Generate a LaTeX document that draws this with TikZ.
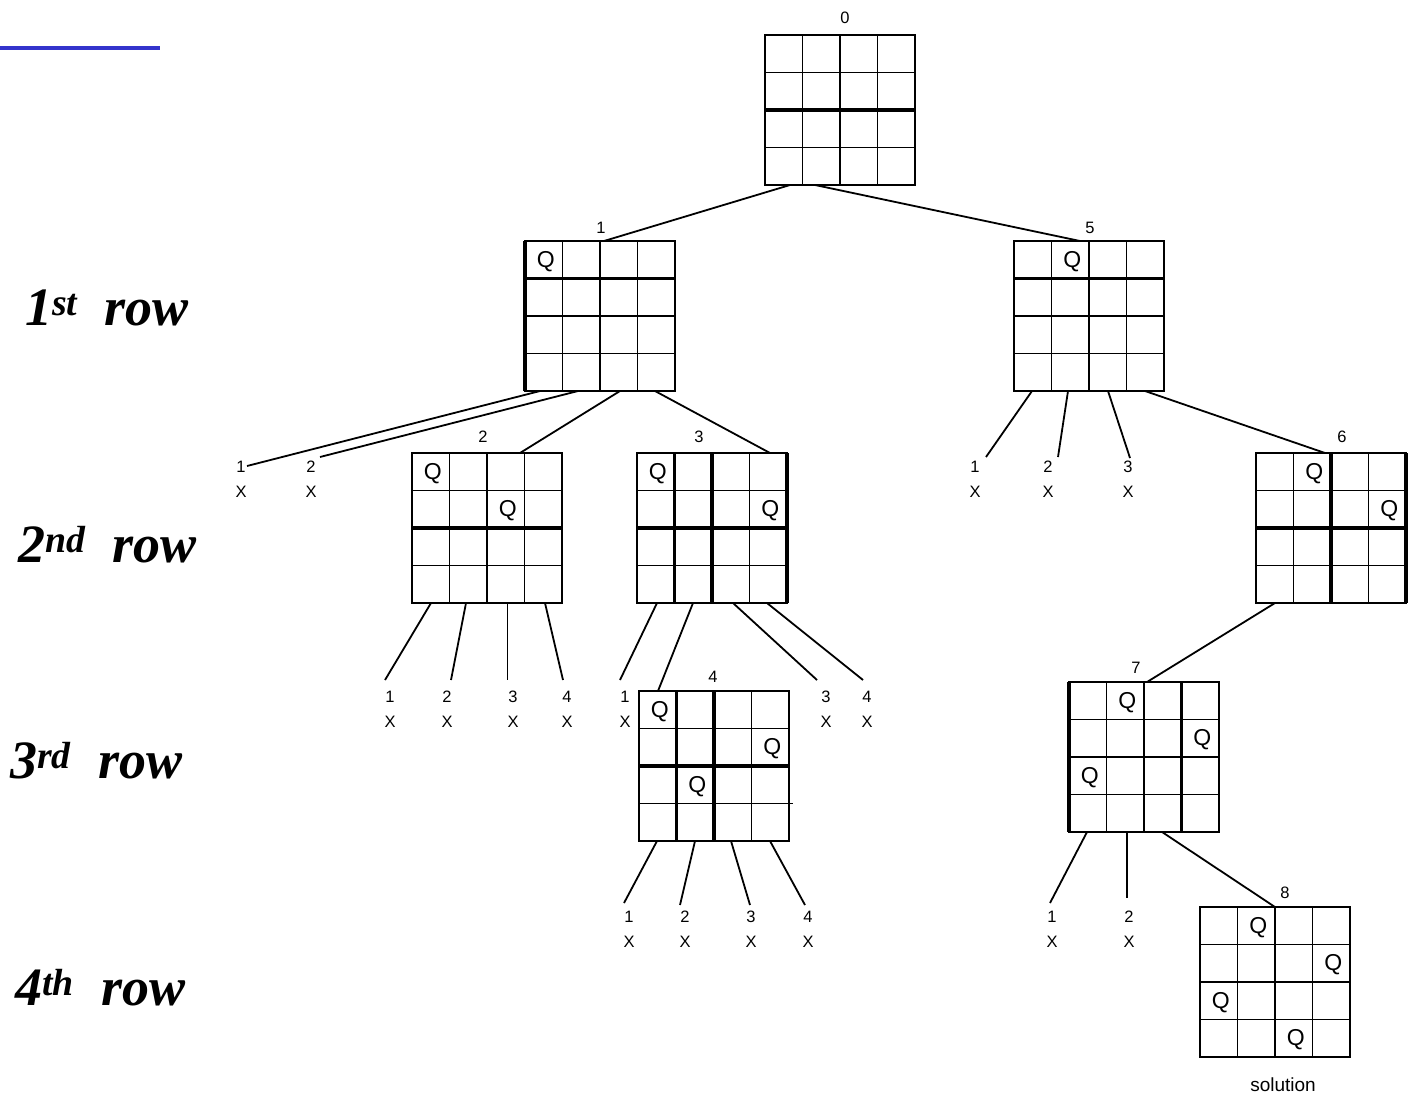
\documentclass[tikz,border=0pt]{standalone}
\usepackage{fontspec}
\setmainfont{Liberation Serif}
\newfontfamily\labelfont{Liberation Sans}
\usetikzlibrary{calc}

\definecolor{rulerblue}{RGB}{52,52,204}

\tikzset{
  boardbox/.style={draw, line width=1.5pt, minimum size=150pt, inner sep=0pt, outer sep=0pt},
  gridline/.style={line width=1.5pt},
  heavy/.style={line width=3.6pt},
  edge/.style={line width=1.8pt},
  thinedge/.style={line width=1pt},
  queen/.style={font=\labelfont\fontsize{23}{23}\selectfont, inner sep=0pt},
  tag/.style={font=\labelfont\fontsize{16.5}{16.5}\selectfont, inner sep=0pt},
  rowlabel/.style={font=\fontsize{54}{54}\selectfont\bfseries\itshape, anchor=base west, inner sep=0pt},
}

% a 4x4 board: name, left x, top y
\newcommand\qboard[3]{%
  \node[boardbox] (#1) at ({#2+75},{#3+75}) {};
  \foreach \k in {37.5,75,112.5} {
    \draw[gridline] ($(#1.north west)+(\k,0)$) -- ++(0,150);
    \draw[gridline] ($(#1.north west)+(0,\k)$) -- ++(150,0);
  }}
% heavy horizontal rule after row #2, heavy vertical rule after column #2
\newcommand\hrow[2]{\draw[heavy] ($(#1.north west)+(0,{#2*37.5})$) -- ++(150,0);}
\newcommand\vcol[2]{\draw[heavy] ($(#1.north west)+({#2*37.5},0)$) -- ++(0,150);}
% a queen in column #2, row #3
\newcommand\queen[3]{\node[queen] (#1q#2#3) at ($(#1.north west)+({(#2+0.5)*37.5+2},{(#3+0.5)*37.5+1.5})$) {Q};}
% a dead leaf: name, digit, x, y
\newcommand\leaf[4]{%
  \node[tag] (#1) at (#3,#4) {#2};
  \node[tag] (#1x) at (#3,{#4+25}) {X};}

\begin{document}
\begin{tikzpicture}[x=1pt,y=-1pt]
\useasboundingbox (0,0) rectangle (1412,1103);

% rule at the top left
\draw[line width=4pt, rulerblue] (0,48) -- (160,48);

% row captions
\node[rowlabel] (r1) at (25,325) {1\textsuperscript{st}\hspace{0.5em}row};
\node[rowlabel] (r2) at (18,562) {2\textsuperscript{nd}\hspace{0.5em}row};
\node[rowlabel] (r3) at (10,778) {3\textsuperscript{rd}\hspace{0.5em}row};
\node[rowlabel] (r4) at (15,1005) {4\textsuperscript{th}\hspace{0.5em}row};

% ---- boards ----
\qboard{b0}{765}{35}
\hrow{b0}{2}
\node[tag] (t0) at (845,18) {0};

\qboard{b1}{525}{241}
\hrow{b1}{1} \vcol{b1}{0}
\queen{b1}{0}{0}
\node[tag] (t1) at (601,228) {1};

\qboard{b5}{1014}{241}
\hrow{b5}{1}
\queen{b5}{1}{0}
\node[tag] (t5) at (1090,228) {5};

\qboard{b2}{412}{453}
\hrow{b2}{2}
\queen{b2}{0}{0} \queen{b2}{2}{1}
\node[tag] (t2) at (483,437) {2};

\qboard{b3}{637}{453}
\hrow{b3}{2} \vcol{b3}{1} \vcol{b3}{2} \vcol{b3}{4}
\queen{b3}{0}{0} \queen{b3}{3}{1}
\node[tag] (t3) at (699,437) {3};

\qboard{b6}{1256}{453}
\hrow{b6}{2} \vcol{b6}{2} \vcol{b6}{4}
\queen{b6}{1}{0} \queen{b6}{3}{1}
\node[tag] (t6) at (1342,437) {6};

\qboard{b4}{639}{691}
\hrow{b4}{2} \vcol{b4}{1} \vcol{b4}{2}
\draw[gridline] ($(b4.north west)+(150,112.5)$) -- ++(4,0);
\queen{b4}{0}{0} \queen{b4}{3}{1} \queen{b4}{1}{2}
\node[tag] (t4) at (713,677) {4};

\qboard{b7}{1069}{682}
\vcol{b7}{0} \vcol{b7}{3}
\queen{b7}{1}{0} \queen{b7}{3}{1} \queen{b7}{0}{2}
\node[tag] (t7) at (1136,668) {7};

\qboard{b8}{1200}{907}
\queen{b8}{1}{0} \queen{b8}{3}{1} \queen{b8}{0}{2} \queen{b8}{2}{3}
\node[tag] (t8) at (1285,893) {8};
\node[tag, font=\labelfont\fontsize{19}{19}\selectfont] (sol) at (1283,1085) {solution};

% ---- dead leaves ----
\leaf{a1}{1}{241}{467} \leaf{a2}{2}{311}{467}
\leaf{e1}{1}{975}{467} \leaf{e2}{2}{1048}{467} \leaf{e3}{3}{1128}{467}
\leaf{c1}{1}{390}{697} \leaf{c2}{2}{447}{697} \leaf{c3}{3}{513}{697} \leaf{c4}{4}{567}{697}
\leaf{d1}{1}{625}{697} \leaf{d3}{3}{826}{697} \leaf{d4}{4}{867}{697}
\leaf{f1}{1}{629}{917} \leaf{f2}{2}{685}{917} \leaf{f3}{3}{751}{917} \leaf{f4}{4}{808}{917}
\leaf{g1}{1}{1052}{917} \leaf{g2}{2}{1129}{917}

% ---- connectors ----
\draw[edge] ($(b0.south west)+(25,0)$) -- ($(b1.north west)+(79,0)$);
\draw[edge] ($(b0.south west)+(50,0)$) -- ($(b5.north west)+(66,0)$);

\draw[edge] ($(b1.south west)+(15,0)$) -- ($(a1)+(6,-1)$);
\draw[edge] ($(b1.south west)+(53,0)$) -- ($(a2)+(9,-10)$);
\draw[edge] ($(b1.south west)+(95,0)$) -- ($(b2.north west)+(108,0)$);
\draw[edge] ($(b1.south west)+(130,0)$) -- ($(b3.north west)+(133,0)$);

\draw[edge] ($(b5.south west)+(18,0)$) -- ($(e1)+(11,-10)$);
\draw[edge] ($(b5.south west)+(54,0)$) -- ($(e2)+(10,-10)$);
\draw[edge] ($(b5.south west)+(94,0)$) -- ($(e3)+(2,-9)$);
\draw[edge] ($(b5.south west)+(131,0)$) -- ($(b6.north west)+(69,0)$);

\draw[edge] ($(b2.south west)+(19,0)$) -- ($(c1)+(-5,-17)$);
\draw[edge] ($(b2.south west)+(54,0)$) -- ($(c2)+(4,-17)$);
\draw[thinedge] ($(b2.south west)+(95,0)$) -- ($(c3)+(-6,-17)$);
\draw[edge] ($(b2.south west)+(133,0)$) -- ($(c4)+(-4,-17)$);

\draw[edge] ($(b3.south west)+(20,0)$) -- ($(d1)+(-5,-17)$);
\draw[edge] ($(b3.south west)+(56,0)$) -- ($(b4.north west)+(19,0)$);
\draw[edge] ($(b3.south west)+(96,0)$) -- ($(d3)+(-9,-17)$);
\draw[edge] ($(b3.south west)+(130,0)$) -- ($(d4)+(-4,-17)$);

\draw[edge] ($(b4.south west)+(18,0)$) -- ($(f1)+(-5,-14)$);
\draw[edge] ($(b4.south west)+(56,0)$) -- ($(f2)+(-5,-12)$);
\draw[edge] ($(b4.south west)+(92,0)$) -- ($(f3)+(-1,-12)$);
\draw[edge] ($(b4.south west)+(131,0)$) -- ($(f4)+(-3,-12)$);

\draw[edge] ($(b6.south west)+(19,0)$) -- ($(b7.north west)+(78,0)$);

\draw[edge] ($(b7.south west)+(18,0)$) -- ($(g1)+(-2,-14)$);
\draw[edge] ($(b7.south west)+(58,0)$) -- ($(g2)+(-2,-19)$);
\draw[edge] ($(b7.south west)+(93,0)$) -- ($(b8.north west)+(75,0)$);
\end{tikzpicture}
\end{document}
